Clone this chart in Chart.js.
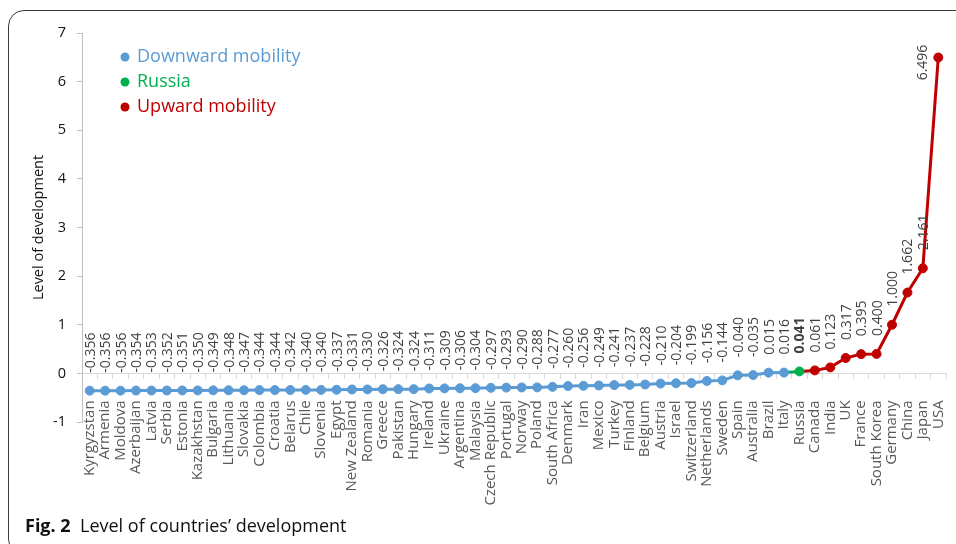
<!DOCTYPE html>
<html>
<head>
<meta charset="utf-8">
<script src="https://cdn.jsdelivr.net/npm/chart.js@4"></script>
<style>
  html, body { margin: 0; padding: 0; background: #fff; overflow: hidden; }
  #wrap { position: relative; width: 956px; height: 544px; overflow: hidden; }
  #frame { position: absolute; left: 8px; top: 10px; width: 980px; height: 545px;
           border: 1.5px solid #3a3a3a; border-radius: 16px; box-sizing: border-box; }
  #cv { position: absolute; left: 0; top: 0; }
  #caption { position: absolute; left: 25px; top: 513px; font-family: 'Open Sans', sans-serif;
             font-size: 18px; line-height: 24px; color: #111; white-space: nowrap; }
  #caption b { font-weight: 700; }
</style>
</head>
<body>
<div id="wrap">
  <div id="frame"></div>
  <canvas id="cv" width="956" height="544"></canvas>
  <div id="caption"><b>Fig. 2</b>&nbsp; Level of countries’ development</div>
</div>
<script>
// ---- data ----
const downwardCountries = ['Kyrgyzstan','Armenia','Moldova','Azerbaijan','Latvia','Serbia','Estonia','Kazakhstan',
  'Bulgaria','Lithuania','Slovakia','Colombia','Croatia','Belarus','Chile','Slovenia','Egypt','New Zealand',
  'Romania','Greece','Pakistan','Hungary','Ireland','Ukraine','Argentina','Malaysia','Czech Republic','Portugal',
  'Norway','Poland','South Africa','Denmark','Iran','Mexico','Turkey','Finland','Belgium','Austria','Israel',
  'Switzerland','Netherlands','Sweden','Spain','Australia','Brazil','Italy'];
const downwardValues = [-0.356,-0.356,-0.356,-0.354,-0.353,-0.352,-0.351,-0.350,
  -0.349,-0.348,-0.347,-0.344,-0.344,-0.342,-0.340,-0.340,-0.337,-0.331,
  -0.330,-0.326,-0.324,-0.324,-0.311,-0.309,-0.306,-0.304,-0.297,-0.293,
  -0.290,-0.288,-0.277,-0.260,-0.256,-0.249,-0.241,-0.237,-0.228,-0.210,-0.204,
  -0.199,-0.156,-0.144,-0.040,-0.035,0.015,0.016];
const russiaCountries = ['Russia'];
const russiaValues = [0.041];
const upwardCountries = ['Canada','India','UK','France','South Korea','Germany','China','Japan','USA'];
const upwardValues = [0.061,0.123,0.317,0.395,0.400,1.000,1.662,2.161,6.496];
const seriesNames = ['Downward mobility','Russia','Upward mobility'];
const yMin = -1, yMax = 7, yStep = 1;

// ---- styles ----
const seriesColors = ['#5B9BD5', '#00B050', '#C00000'];
const FONT = "'Open Sans', 'Noto Sans', sans-serif";

// ---- build ----
const categories = downwardCountries.concat(russiaCountries, upwardCountries);
const nD = downwardValues.length, nR = russiaValues.length, nU = upwardValues.length;
const pad = (n) => new Array(n).fill(null);

// each series also carries the previous series' last point as a hidden "bridge"
// so that the connecting segment takes the colour of the next series
const dDown = downwardValues.concat(pad(nR + nU));
const dRus = pad(nD - 1).concat([downwardValues[nD - 1]], russiaValues, pad(nU));
const dUp = pad(nD + nR - 1).concat([russiaValues[nR - 1]], upwardValues);
const ownFrom = [0, nD, nD + nR];

const datasets = [dDown, dRus, dUp].map((d, k) => ({
  label: seriesNames[k],
  data: d,
  ownFrom: ownFrom[k],
  borderColor: seriesColors[k],
  backgroundColor: seriesColors[k],
  pointBackgroundColor: seriesColors[k],
  pointBorderColor: seriesColors[k],
  borderWidth: 3,
  pointBorderWidth: 1,
  pointRadius: (ctx) => ctx.dataIndex < ownFrom[k] ? 0 : 4.5,
  pointHoverRadius: 4.5,
  tension: 0,
  spanGaps: false,
  clip: false
}));

const valueLabels = {
  id: 'valueLabels',
  afterDatasetsDraw(chart) {
    const ctx = chart.ctx;
    const top = chart.chartArea.top;
    chart.data.datasets.forEach((ds, k) => {
      const meta = chart.getDatasetMeta(k);
      meta.data.forEach((pt, i) => {
        const v = ds.data[i];
        if (v === null || i < ds.ownFrom) return;
        const txt = v.toFixed(3);
        ctx.save();
        ctx.font = (k === 1 ? 'bold ' : '') + '14px ' + FONT;
        ctx.fillStyle = '#404040';
        const w = ctx.measureText(txt).width;
        const off = 18;
        if (pt.y - off - w < top - 20) {
          ctx.translate(pt.x - 15, pt.y + 5);
          ctx.rotate(-Math.PI / 2);
          ctx.textAlign = 'center';
        } else {
          ctx.translate(pt.x + 1, pt.y - off);
          ctx.rotate(-Math.PI / 2);
          ctx.textAlign = 'left';
        }
        ctx.textBaseline = 'middle';
        ctx.fillText(txt, 0, 0);
        ctx.restore();
      });
    });
  }
};

const insideLegend = {
  id: 'insideLegend',
  afterDraw(chart) {
    const ctx = chart.ctx;
    const a = chart.chartArea;
    ctx.save();
    ctx.font = '18px ' + FONT;
    ctx.textBaseline = 'middle';
    ctx.textAlign = 'left';
    chart.data.datasets.forEach((ds, k) => {
      const y = a.top + 24 + k * 25;
      const x = a.left + 43;
      ctx.fillStyle = ds.borderColor;
      ctx.beginPath();
      ctx.arc(x, y, 4.5, 0, Math.PI * 2);
      ctx.fill();
      ctx.fillText(ds.label, x + 12, y);
    });
    ctx.restore();
  }
};

Chart.defaults.font.family = FONT;

new Chart(document.getElementById('cv'), {
  type: 'line',
  data: { labels: categories, datasets },
  options: {
    responsive: false,
    animation: false,
    events: [],
    layout: { padding: { left: 0, right: 10, top: 33, bottom: 122 } },
    plugins: { legend: { display: false }, tooltip: { enabled: false } },
    scales: {
      x: {
        type: 'category',
        position: { y: 0 },
        offset: true,
        afterFit(scale) { scale.paddingLeft = 0; scale.paddingRight = 0; },
        grid: { offset: true, drawOnChartArea: false, drawTicks: true, tickLength: 5, color: '#d9d9d9' },
        border: { display: true, color: '#d9d9d9', width: 1 },
        ticks: { autoSkip: false, minRotation: 90, maxRotation: 90, padding: 22,
                 color: '#595959', font: { size: 15 } }
      },
      y: {
        min: yMin, max: yMax,
        afterFit(scale) { scale.width = 82; },
        grid: { drawOnChartArea: false, drawTicks: true, tickLength: 5, color: '#bfbfbf' },
        border: { display: true, color: '#bfbfbf', width: 1 },
        ticks: { stepSize: yStep, padding: 11, color: '#111', font: { size: 14.5 } },
        title: { display: true, text: 'Level of development', color: '#111',
                 font: { size: 14.5 }, padding: { top: 30, bottom: 0 } }
      }
    }
  },
  plugins: [valueLabels, insideLegend]
});
</script>
</body>
</html>
